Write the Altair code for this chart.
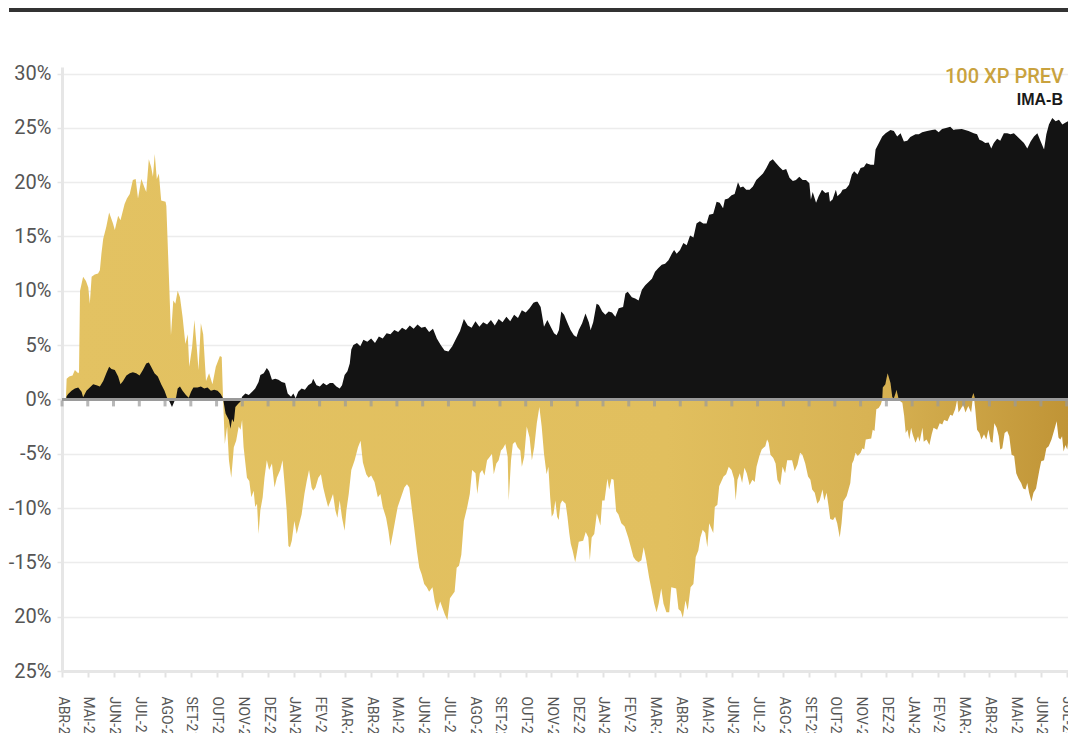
import altair as alt
import pandas as pd

month_labels = ["ABR-21", "MAI-21", "JUN-21", "JUL-21", "AGO-21", "SET-21", "OUT-21", "NOV-21", "DEZ-21",
                "JAN-22", "FEV-22", "MAR-22", "ABR-22", "MAI-22", "JUN-22", "JUL-22", "AGO-22", "SET-22",
                "OUT-22", "NOV-22", "DEZ-22", "JAN-23", "FEV-23", "MAR-23", "ABR-23", "MAI-23", "JUN-23",
                "JUL-23", "AGO-23", "SET-23", "OUT-23", "NOV-23", "DEZ-23", "JAN-24", "FEV-24", "MAR-24",
                "ABR-24", "MAI-24", "JUN-24", "JUL-24"]
y_ticks = [-25, -20, -15, -10, -5, 0, 5, 10, 15, 20, 25, 30]
y_tick_labels = ["25%", "20%", "-15%", "-10%", "-5%", "0%", "5%", "10%", "15%", "20%", "25%", "30%"]
series_names = ["100 XP PREV", "IMA-B"]

# 100 XP PREV (months since Apr-2021, % value)
xp_month = [0.15, 0.18, 0.28, 0.41, 0.50, 0.63, 0.66, 0.70, 0.82, 0.93, 1.02, 1.08, 1.15, 1.27, 1.40, 1.47, 1.53,
            1.60, 1.72, 1.83, 1.98, 2.05, 2.18, 2.27, 2.43, 2.52, 2.63, 2.75, 2.86, 2.95, 3.08, 3.20, 3.27, 3.37,
            3.46, 3.53, 3.60, 3.68, 3.76, 3.85, 4.02, 4.05, 4.17, 4.23, 4.32, 4.40, 4.49, 4.58, 4.68, 4.79, 4.88,
            4.94, 5.05, 5.14, 5.23, 5.30, 5.39, 5.48, 5.59, 5.71, 5.84, 5.97, 6.13, 6.20, 6.25, 6.32, 6.41, 6.48,
            6.57, 6.67, 6.76, 6.86, 6.93, 6.99, 7.05, 7.18, 7.27, 7.35, 7.44, 7.50, 7.57, 7.63, 7.70, 7.79, 7.86,
            7.95, 8.04, 8.15, 8.25, 8.34, 8.47, 8.56, 8.63, 8.72, 8.79, 8.85, 8.92, 9.02, 9.11, 9.17, 9.30, 9.41,
            9.50, 9.59, 9.69, 9.75, 9.84, 9.95, 10.05, 10.14, 10.23, 10.33, 10.43, 10.52, 10.61, 10.69, 10.78,
            10.87, 10.97, 11.04, 11.13, 11.23, 11.36, 11.49, 11.59, 11.68, 11.81, 11.90, 12.00, 12.13, 12.26,
            12.36, 12.45, 12.58, 12.67, 12.75, 12.84, 12.93, 13.03, 13.16, 13.29, 13.39, 13.48, 13.57, 13.67,
            13.78, 13.87, 13.96, 14.06, 14.16, 14.25, 14.38, 14.47, 14.57, 14.68, 14.77, 14.86, 14.96, 15.06,
            15.15, 15.24, 15.32, 15.41, 15.50, 15.60, 15.73, 15.83, 15.92, 16.05, 16.12, 16.22, 16.31, 16.40,
            16.50, 16.60, 16.69, 16.76, 16.86, 16.95, 17.04, 17.12, 17.21, 17.30, 17.34, 17.43, 17.50, 17.59,
            17.68, 17.79, 17.85, 17.94, 18.04, 18.15, 18.24, 18.33, 18.43, 18.53, 18.62, 18.71, 18.81, 18.88,
            18.95, 19.01, 19.08, 19.15, 19.22, 19.28, 19.35, 19.42, 19.55, 19.62, 19.69, 19.75, 19.82, 19.92,
            19.98, 20.06, 20.23, 20.33, 20.43, 20.49, 20.56, 20.66, 20.76, 20.83, 20.90, 20.97, 21.06, 21.17,
            21.24, 21.33, 21.41, 21.51, 21.60, 21.71, 21.84, 21.98, 22.08, 22.18, 22.27, 22.38, 22.49, 22.58,
            22.68, 22.79, 22.89, 22.99, 23.08, 23.16, 23.26, 23.35, 23.46, 23.57, 23.65, 23.84, 23.93, 24.02,
            24.10, 24.20, 24.29, 24.40, 24.51, 24.60, 24.70, 24.78, 24.87, 24.97, 25.05, 25.12, 25.28, 25.34,
            25.44, 25.51, 25.68, 25.78, 25.88, 25.99, 26.09, 26.15, 26.22, 26.31, 26.40, 26.49, 26.58, 26.69,
            26.80, 26.89, 26.96, 27.07, 27.16, 27.30, 27.37, 27.43, 27.50, 27.61, 27.70, 27.77, 27.88, 27.97,
            28.07, 28.15, 28.34, 28.44, 28.55, 28.65, 28.74, 28.85, 28.96, 29.05, 29.12, 29.22, 29.32, 29.41,
            29.52, 29.59, 29.68, 29.76, 29.82, 29.93, 30.01, 30.09, 30.19, 30.26, 30.33, 30.46, 30.53, 30.60,
            30.67, 30.73, 30.80, 30.89, 31.00, 31.07, 31.14, 31.20, 31.41, 31.47, 31.54, 31.61, 31.70, 31.78,
            31.84, 31.86, 31.96, 32.01, 32.05, 32.10, 32.16, 32.23, 32.29, 32.36, 32.39, 32.44, 32.48, 32.55,
            32.62, 32.69, 32.75, 32.82, 32.89, 32.96, 33.02, 33.13, 33.23, 33.29, 33.40, 33.45, 33.56, 33.67,
            33.76, 33.83, 33.97, 34.07, 34.17, 34.24, 34.37, 34.48, 34.57, 34.67, 34.75, 34.80, 34.88, 34.98,
            35.07, 35.18, 35.29, 35.38, 35.45, 35.52, 35.61, 35.69, 35.79, 35.88, 35.96, 36.05, 36.12, 36.19,
            36.28, 36.36, 36.42, 36.50, 36.59, 36.69, 36.77, 36.86, 36.96, 37.04, 37.13, 37.23, 37.31, 37.40,
            37.47, 37.54, 37.63, 37.71, 37.81, 37.87, 37.94, 38.01, 38.12, 38.21, 38.30, 38.41, 38.52, 38.61,
            38.68, 38.75, 38.82, 38.88, 38.95, 39.02, 39.05]
xp_value = [0.0, 1.9, 2.1, 2.2, 2.7, 2.4, 2.5, 10.0, 11.3, 10.9, 10.3, 8.8, 11.3, 11.5, 11.6, 11.9, 13.4,
            14.8, 15.9, 17.2, 16.2, 15.6, 16.9, 16.5, 18.0, 18.5, 18.9, 20.2, 20.3, 18.5, 20.3, 19.5, 19.1, 22.1,
            21.4, 20.5, 22.6, 20.3, 20.8, 18.3, 18.2, 17.8, 10.0, 5.9, 9.1, 8.8, 10.0, 9.4, 7.6, 5.1, 6.0,
            3.0, 4.8, 7.3, 4.8, 2.7, 7.0, 6.0, 1.7, 2.4, 1.4, 3.0, 4.0, 3.9, 0.2, -4.1, -2.5, -5.6,
            -7.2, -4.4, -3.8, -2.5, -2.8, -1.9, -4.4, -7.2, -7.5, -9.0, -8.4, -9.9, -9.6, -12.4, -10.2, -9.0, -7.2,
            -5.6, -6.5, -5.9, -8.1, -7.2, -6.5, -5.6, -7.5, -10.2, -13.5, -13.6, -13.0, -11.2, -12.4, -11.8, -10.6, -8.7,
            -7.5, -6.5, -8.1, -8.4, -8.1, -7.2, -6.9, -8.1, -9.0, -9.9, -9.3, -8.7, -10.2, -10.9, -9.3,
            -10.9, -12.1, -10.2, -8.7, -6.5, -5.6, -4.4, -3.8, -5.8, -6.9, -7.2, -7.0, -7.6, -9.0,
            -8.7, -9.9, -10.9, -12.1, -13.5, -12.4, -11.2, -9.9, -9.0, -8.1, -7.8, -8.1, -9.9, -11.8,
            -14.0, -15.5, -16.1, -17.0, -17.3, -17.7, -17.3, -18.6, -19.5, -18.6, -19.2, -19.8, -20.3, -18.3,
            -18.0, -17.7, -15.5, -15.3, -14.3, -11.2, -9.9, -8.7, -6.5, -6.8, -8.7, -6.8, -6.5, -7.0,
            -5.6, -5.3, -5.0, -6.9, -5.9, -5.6, -4.7, -4.5, -4.1, -5.3, -9.3, -5.6, -4.1, -3.9,
            -4.4, -4.7, -6.2, -5.3, -2.5, -3.5, -5.6, -4.4, -2.2, -0.7, -2.5, -5.0, -6.9, -6.2,
            -9.0, -10.8, -10.5, -9.3, -10.8, -11.1, -9.6, -9.3, -9.6, -10.8, -12.3, -13.3, -13.9, -15.0,
            -14.2, -13.1, -13.0, -12.2, -12.7, -14.8, -12.7, -12.4, -10.5, -11.0, -11.6, -9.3, -9.3, -7.3,
            -8.3, -7.3, -7.4, -10.3, -10.6, -11.4, -11.7, -12.7, -13.6, -14.5, -14.8, -15.0, -14.8, -13.6,
            -14.8, -16.4, -17.6, -18.8, -19.6, -18.8, -17.4, -18.8, -19.6, -19.6, -17.3, -17.4, -19.3, -19.5,
            -20.1, -18.5, -19.4, -17.3, -17.0, -14.5, -13.9, -12.7, -12.0, -12.3, -13.6, -11.4, -12.3, -9.9,
            -9.7, -8.0, -7.1, -6.9, -6.2, -6.5, -7.3, -9.3, -7.4, -6.8, -7.7, -6.3, -6.8, -7.9,
            -7.4, -7.6, -6.2, -5.2, -4.6, -4.3, -3.7, -4.0, -5.1, -5.4, -5.9, -7.4, -7.9, -6.2,
            -6.8, -5.6, -5.6, -6.6, -6.0, -4.9, -5.1, -5.9, -7.1, -7.4, -8.3, -8.6, -9.6, -9.3,
            -8.3, -9.3, -8.6, -9.9, -11.0, -11.1, -10.8, -11.4, -12.7, -11.4, -9.4, -8.9, -8.3, -7.7,
            -5.9, -5.6, -4.9, -5.2, -4.9, -4.5, -4.6, -3.7, -3.6, -2.8, -2.9, -0.9, -0.8, -0.5,
            0.0, 1.1, 1.4, 2.0, 2.4, 2.0, 1.5, 0.2, 0.1, 0.6, 0.9, 0.4, 0.0, -0.2,
            -0.3, -1.5, -3.1, -2.8, -3.7, -2.6, -3.2, -4.0, -3.4, -3.9, -2.6, -3.9, -3.7, -4.2,
            -3.2, -2.6, -2.8, -2.2, -2.3, -1.9, -2.0, -1.4, -1.5, -0.9, 0.0, -1.2, -0.9, -0.5,
            -1.2, -0.6, -1.2, 0.6, -0.9, -2.8, -3.1, -3.7, -3.2, -3.7, -2.8, -3.9, -4.0, -2.2,
            -2.6, -3.4, -4.6, -4.5, -3.1, -2.9, -3.4, -5.1, -5.2, -6.8, -7.3, -7.7, -8.2, -8.3,
            -7.7, -8.6, -9.4, -8.6, -8.2, -7.4, -6.5, -5.7, -5.6, -4.5, -4.3, -3.7, -2.8, -2.0,
            -3.5, -3.7, -3.4, -4.8, -4.2, -4.6, -4.0]

# IMA-B (months since Apr-2021, % value)
ima_month = [0.14, 0.18, 0.24, 0.37, 0.50, 0.63, 0.76, 0.82, 0.95, 1.08, 1.21, 1.34, 1.47, 1.60, 1.72, 1.83,
             1.92, 2.05, 2.18, 2.27, 2.37, 2.50, 2.63, 2.75, 2.88, 3.01, 3.14, 3.27, 3.37, 3.46, 3.59, 3.72,
             3.85, 3.98, 4.07, 4.17, 4.27, 4.36, 4.43, 4.49, 4.58, 4.68, 4.81, 4.92, 5.01, 5.10, 5.26, 5.39,
             5.52, 5.65, 5.78, 5.91, 6.04, 6.16, 6.25, 6.35, 6.48, 6.54, 6.60, 6.67, 6.73, 6.84, 6.93, 6.99,
             7.12, 7.25, 7.38, 7.50, 7.63, 7.70, 7.83, 7.95, 8.04, 8.15, 8.28, 8.40, 8.53, 8.66, 8.76, 8.89,
             8.98, 9.07, 9.17, 9.30, 9.43, 9.56, 9.69, 9.75, 9.88, 10.01, 10.14, 10.27, 10.40, 10.52, 10.65,
             10.78, 10.87, 10.97, 11.08, 11.17, 11.23, 11.31, 11.45, 11.58, 11.70, 11.85, 12.00, 12.15, 12.30,
             12.45, 12.60, 12.75, 12.90, 13.05, 13.20, 13.35, 13.50, 13.65, 13.80, 13.95, 14.10, 14.25, 14.40,
             14.55, 14.70, 14.85, 15.00, 15.15, 15.30, 15.45, 15.60, 15.75, 15.90, 16.05, 16.20, 16.35, 16.50,
             16.65, 16.80, 16.95, 17.10, 17.25, 17.40, 17.55, 17.70, 17.85, 18.00, 18.15, 18.30, 18.40, 18.46,
             18.58, 18.71, 18.84, 18.97, 19.10, 19.20, 19.29, 19.38, 19.49, 19.61, 19.74, 19.87, 19.97, 20.06,
             20.19, 20.32, 20.45, 20.52, 20.62, 20.75, 20.84, 20.97, 21.09, 21.22, 21.35, 21.48, 21.61, 21.78,
             21.87, 21.96, 22.12, 22.25, 22.38, 22.51, 22.64, 22.77, 22.90, 23.02, 23.15, 23.28, 23.41, 23.54,
             23.67, 23.76, 23.86, 23.99, 24.12, 24.25, 24.38, 24.51, 24.63, 24.76, 24.89, 25.02, 25.12, 25.28,
             25.41, 25.53, 25.66, 25.73, 25.86, 25.99, 26.11, 26.24, 26.33, 26.44, 26.56, 26.69, 26.82, 26.95,
             27.08, 27.21, 27.34, 27.47, 27.59, 27.72, 27.85, 27.98, 28.11, 28.24, 28.37, 28.49, 28.62, 28.75,
             28.88, 29.01, 29.07, 29.14, 29.27, 29.37, 29.50, 29.63, 29.76, 29.81, 29.91, 30.04, 30.10, 30.23,
             30.30, 30.43, 30.55, 30.66, 30.75, 30.88, 31.00, 31.13, 31.22, 31.39, 31.52, 31.58, 31.71, 31.84,
             31.97, 32.16, 32.29, 32.42, 32.55, 32.68, 32.81, 32.93, 33.13, 33.26, 33.39, 33.58, 33.77, 33.90,
             34.03, 34.16, 34.35, 34.48, 34.61, 34.67, 34.93, 35.19, 35.39, 35.52, 35.61, 35.71, 35.84, 35.97,
             36.07, 36.17, 36.30, 36.42, 36.56, 36.69, 36.82, 36.95, 37.08, 37.21, 37.34, 37.47, 37.60, 37.73,
             37.86, 37.99, 38.12, 38.21, 38.31, 38.44, 38.57, 38.70, 38.83, 38.96, 39.05]
ima_value = [-0.2, 0.3, 0.5, 0.8, 1.0, 1.1, 0.7, 0.2, 0.8, 1.1, 1.4, 1.3, 1.2, 1.7, 2.4, 3.0,
             2.8, 2.7, 2.1, 1.4, 1.7, 2.2, 2.4, 2.5, 2.4, 2.2, 2.7, 3.3, 3.4, 3.0, 2.4, 2.1,
             1.4, 0.8, 0.2, -0.2, -0.7, -0.2, 0.2, 1.0, 1.2, 0.8, 0.4, 0.15, 0.7, 1.1, 1.1, 1.2,
             1.0, 1.1, 0.8, 0.9, 0.8, 0.5, 0.1, -1.3, -1.9, -2.7, -1.8, -2.1, -0.7, -0.4, -0.2, 0.25,
             0.55, 0.4, 0.7, 1.0, 1.6, 2.25, 2.4, 2.9, 2.6, 1.8, 1.9, 1.8, 1.6, 1.5, 0.55, 0.25,
             0.55, 0.1, 0.7, 1.0, 0.9, 1.3, 1.5, 1.9, 1.3, 1.2, 1.5, 1.3, 1.5, 1.5, 1.2,
             1.0, 1.3, 2.25, 2.6, 3.3, 4.6, 5.0, 5.2, 4.9, 5.5, 5.3, 5.6, 5.2, 5.8,
             5.6, 6.1, 6.0, 6.4, 6.2, 6.6, 6.4, 6.8, 6.5, 6.9, 6.6, 6.7, 6.2, 6.5,
             5.6, 5.0, 4.5, 4.4, 4.9, 5.6, 6.3, 7.4, 6.8, 6.6, 7.2, 6.7, 7.1, 6.9,
             7.3, 6.8, 7.4, 7.1, 7.6, 7.2, 7.8, 7.5, 8.2, 8.0, 8.4, 8.9, 9.0, 9.0,
             8.5, 6.7, 7.3, 6.7, 6.1, 5.9, 6.4, 8.1, 7.8, 7.1, 6.4, 5.9, 5.75, 6.4,
             7.0, 7.9, 7.1, 6.4, 7.1, 8.8, 8.7, 8.1, 7.8, 8.1, 8.0, 7.6, 8.4, 8.5,
             9.75, 9.9, 9.4, 9.3, 9.1, 10.1, 10.5, 10.8, 11.1, 11.75, 12.1, 12.4, 12.5, 12.8,
             13.4, 13.75, 13.4, 13.75, 14.4, 14.2, 15.1, 14.9, 16.2, 16.4, 16.2, 16.2, 17.0, 17.1,
             18.2, 18.1, 17.6, 18.4, 18.5, 18.8, 18.9, 20.0, 19.5, 19.6, 19.3, 19.3, 19.6, 20.2,
             20.5, 20.8, 21.3, 21.9, 22.1, 21.75, 21.4, 21.1, 21.2, 20.4, 20.1, 20.2, 20.5, 20.2,
             20.2, 19.9, 18.4, 19.1, 18.1, 18.7, 19.3, 19.0, 19.1, 18.2, 18.4, 19.3, 18.7, 19.0,
             19.3, 19.4, 19.75, 20.7, 21.0, 20.7, 21.3, 21.4, 21.75, 21.6, 21.6, 23.0, 23.6, 24.2,
             24.5, 24.8, 24.7, 24.2, 24.5, 23.75, 23.8, 24.15, 24.4, 24.4, 24.6, 24.7, 24.8, 24.85,
             24.6, 24.9, 25.0, 25.1, 24.8, 24.85, 24.9, 24.7, 24.5, 24.4, 23.9, 23.8, 23.6, 23.65,
             23.1, 23.6, 24.0, 23.8, 24.5, 24.5, 24.4, 24.5, 24.2, 23.9, 23.6, 23.1, 23.75, 24.2,
             24.5, 23.75, 23.0, 24.4, 25.3, 25.9, 25.6, 25.75, 25.3, 25.5, 25.6]

gold_df = pd.DataFrame({"m": xp_month, "v": xp_value})
black_df = pd.DataFrame({"m": ima_month, "v": ima_value})
ticks_df = pd.DataFrame({"m": list(range(len(month_labels))), "v": [0] * len(month_labels)})
zero_df = pd.DataFrame({"m": [0], "v": [0]})

W, H = 1006, 604
LABEL_FONT = "Roboto, Liberation Sans, sans-serif"

x_lab = "[" + ",".join("'%s'" % s for s in month_labels) + "]"
y_lab = "[" + ",".join("'%s'" % s for s in y_tick_labels) + "]"

x_scale = alt.Scale(domain=[0, 39.05], nice=False, zero=False)
y_scale = alt.Scale(domain=[-25, 30.6], nice=False)

x_axis = alt.Axis(values=list(range(len(month_labels))),
                  labelExpr=x_lab + "[round(datum.value)]",
                  labelAngle=90, labelFont=LABEL_FONT, labelFontSize=14, labelColor="#555555",
                  labelPadding=19, labelOverlap=False, labelFlush=False, labelBound=False,
                  tickSize=6, tickColor="#e2e2e2", tickWidth=2,
                  domainColor="#e6e6e6", domainWidth=3, grid=False, title=None)
y_axis = alt.Axis(values=y_ticks,
                  labelExpr=y_lab + "[round((datum.value + 25) / 5)]",
                  labelFont=LABEL_FONT, labelFontSize=20, labelColor="#555555", labelPadding=6,
                  labelOverlap=False,
                  tickSize=5, tickColor="#e6e6e6", tickWidth=1.5,
                  domainColor="#e6e6e6", domainWidth=3,
                  gridColor="#ececec", gridWidth=1.5, title=None)

x_enc = alt.X("m:Q", scale=x_scale, axis=x_axis, title=None)
y_enc = alt.Y("v:Q", scale=y_scale, axis=y_axis, title=None)

gold_fill = alt.Gradient(
    gradient="linear",
    stops=[alt.GradientStop(offset=0, color="#e3c262"),
           alt.GradientStop(offset=0.6, color="#e1bf5e"),
           alt.GradientStop(offset=0.8, color="#d8b354"),
           alt.GradientStop(offset=1, color="#c09436")],
    x1=0, x2=1, y1=0, y2=0)

gold = alt.Chart(gold_df).mark_area(color=gold_fill).encode(x=x_enc, y=y_enc)
black = alt.Chart(black_df).mark_area(color="#131313").encode(x=x_enc, y=y_enc)
gold_top = alt.Chart(gold_df).transform_calculate(
    v2="datum.m > 30 ? max(datum.v, 0) : 0"
).mark_area(color=gold_fill).encode(x=x_enc, y=alt.Y("v2:Q", scale=y_scale, axis=y_axis, title=None))

zero_rule = alt.Chart(zero_df).mark_rule(color="#9a9a9a", strokeWidth=3).encode(y=y_enc)
zero_ticks = alt.Chart(ticks_df).mark_tick(color="#9a9a9a", thickness=3, size=6, orient="vertical",
                                            yOffset=4).encode(x=x_enc, y=y_enc)

leg1 = alt.Chart(pd.DataFrame({"t": [series_names[0]]})).mark_text(
    align="right", baseline="alphabetic", font=LABEL_FONT, fontSize=20, fontWeight=500, color="#c9a23e"
).encode(text="t:N", x=alt.value(W - 4), y=alt.value(16))
leg2 = alt.Chart(pd.DataFrame({"t": [series_names[1]]})).mark_text(
    align="right", baseline="alphabetic", font="Liberation Sans, Arial, sans-serif", fontSize=16,
    fontWeight="bold", color="#1a1a1a"
).encode(text="t:N", x=alt.value(W - 5), y=alt.value(38))

top_bar = alt.Chart(zero_df).mark_rule(color="#333333", strokeWidth=4).encode(
    x=alt.value(-53), x2=alt.value(W + 20), y=alt.value(-57))

chart = alt.layer(gold, black, gold_top, zero_rule, zero_ticks, leg1, leg2, top_bar).properties(
    width=W, height=H,
    autosize=alt.AutoSizeParams(type="none"),
    padding={"left": 54, "top": 59, "right": 0, "bottom": 62},
).configure_view(stroke=None)

chart.save("out.html", embed_options={"renderer": "svg", "actions": False})
